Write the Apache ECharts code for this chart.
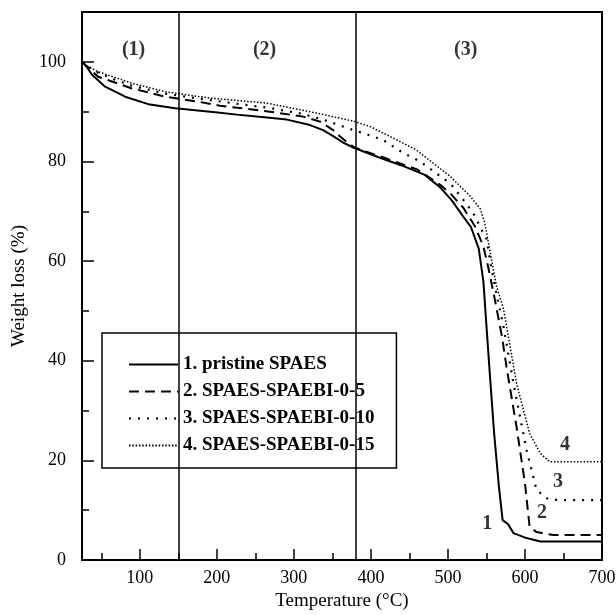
<!DOCTYPE html>
<html>
<head>
<meta charset="utf-8">
<script src="https://cdn.jsdelivr.net/npm/echarts@6/dist/echarts.min.js"></script>
<style>
html, body { margin: 0; background: #fff; }
#main { width: 616px; height: 615px; }
</style>
</head>
<body>
<div id="main"></div>
<script>
var seriesNames = ['1. pristine SPAES', '2. SPAES-SPAEBI-0-5', '3. SPAES-SPAEBI-0-10', '4. SPAES-SPAEBI-0-15'];

// (temperature in C, weight %)
var temp1 = [25, 30, 38, 55, 81, 111, 146, 198, 226, 265, 291, 321, 338, 351, 364, 377, 409, 440, 470, 490, 505, 520, 530, 540, 546, 550, 555, 560, 566, 571, 578, 585, 602, 620, 700];
var loss1 = [100, 99.2, 97.4, 95.0, 93.0, 91.5, 90.7, 89.9, 89.4, 88.8, 88.4, 87.3, 86.3, 85.1, 83.8, 82.8, 80.9, 79.2, 77.3, 74.8, 72.2, 68.9, 66.8, 62.5, 56, 47, 36, 25.4, 15, 8.0, 7.2, 5.4, 4.4, 3.7, 3.7];

var temp2 = [25, 29, 46, 89, 133, 176, 204, 269, 312, 334, 351, 360, 372, 380, 420, 460, 490, 503, 520, 535, 546, 552, 560, 570, 576, 589, 600, 606, 615, 622, 637, 700];
var loss2 = [100, 99.4, 97.0, 94.7, 93.0, 92.0, 91.2, 90.0, 89.0, 88.0, 86.3, 85.0, 83.5, 82.7, 80.6, 78.4, 75.3, 73.6, 70.7, 67.0, 63, 59, 53, 45, 38.8, 26.8, 15.4, 6.7, 5.6, 5.4, 5.0, 5.0];

var temp3 = [25, 30, 46, 68, 90, 133, 178, 230, 270, 310, 340, 377, 390, 416, 442, 464, 485, 503, 520, 533, 543, 550, 557, 565, 572, 585, 602, 615, 628, 645, 700];
var loss3 = [100, 99.3, 97.8, 96.4, 95.2, 93.6, 92.6, 91.5, 90.7, 89.6, 88.3, 86.3, 85.7, 84.3, 81.7, 80.0, 77.6, 75.6, 72.3, 69.6, 66.5, 64.5, 58, 52, 47, 35.5, 22.1, 14.1, 12.4, 12.0, 12.0];

var temp4 = [25, 30, 46, 90, 133, 178, 193, 265, 330, 377, 399, 416, 459, 503, 529, 542, 548, 555, 563, 572, 589, 606, 620, 632, 700];
var loss4 = [100, 99.3, 98.0, 95.7, 94.0, 93.0, 92.7, 91.7, 89.7, 88.1, 87.0, 85.7, 82.3, 77.0, 73.0, 70.5, 67.5, 61.6, 55.0, 50.5, 35.5, 25.4, 21.4, 19.7, 19.7];

var xLabels = [100, 200, 300, 400, 500, 600, 700];
var xMajorTicks = [100, 200, 300, 400, 500, 600];
var xMinorTicks = [50, 150, 250, 350, 450, 550, 650];
var yLabels = [0, 20, 40, 60, 80, 100];
var yMajorTicks = [20, 40, 60, 80, 100];
var yMinorTicks = [10, 30, 50, 70, 90];

var stageLines = [150, 380];
var stageText = ['(1)', '(2)', '(3)'];
var stageTemp = [92, 262, 523];
var stageLoss = [102.4, 102.4, 102.4];

var curveTags = ['1', '2', '3', '4'];
var tagTemp = [551, 622, 643, 652];
var tagLoss = [7.2, 9.4, 15.7, 23.1];

var serif = '"Liberation Serif", "DejaVu Serif", serif';

function zip(xs, ys) {
    return xs.map(function (x, i) { return [x, ys[i]]; });
}

function textPoints(xs, ys, texts) {
    return xs.map(function (x, i) {
        return { value: [x, ys[i]], label: { formatter: texts[i] } };
    });
}

var lineStyles = [
    { color: '#000', width: 2, type: 'solid' },
    { color: '#000', width: 2, type: [10, 6] },
    { color: '#000', width: 2.2, type: [2, 7] },
    { color: '#000', width: 1.5, type: [1.5, 1.8] }
];
var allData = [zip(temp1, loss1), zip(temp2, loss2), zip(temp3, loss3), zip(temp4, loss4)];

var series = allData.map(function (d, i) {
    var s = {
        name: seriesNames[i],
        type: 'line',
        data: d,
        symbol: 'none',
        smooth: false,
        itemStyle: { color: '#000' },
        lineStyle: lineStyles[i]
    };
    if (i === 0) {
        s.markLine = {
            silent: true,
            symbol: 'none',
            label: { show: false },
            lineStyle: { color: '#000', width: 1.5, type: 'solid' },
            data: stageLines.map(function (v) { return { xAxis: v }; })
        };
    }
    return s;
});

var labelStyle = { show: true, position: 'inside', color: '#000', fontFamily: serif, fontWeight: 'bold', fontSize: 20 };

series.push({
    name: 'stages',
    type: 'scatter',
    symbolSize: 0,
    silent: true,
    label: labelStyle,
    data: textPoints(stageTemp, stageLoss, stageText)
});
series.push({
    name: 'tags',
    type: 'scatter',
    symbolSize: 0,
    silent: true,
    label: labelStyle,
    data: textPoints(tagTemp, tagLoss, curveTags)
});

var axisText = { color: '#000', fontFamily: serif, fontSize: 18 };

var option = {
    animation: false,
    backgroundColor: '#fff',
    grid: {
        left: 82, right: 14, top: 12, bottom: 55,
        show: true, borderColor: '#000', borderWidth: 2,
        outerBoundsMode: 'none'
    },
    legend: {
        data: seriesNames,
        orient: 'vertical',
        left: 102,
        top: 333,
        padding: [22, 22, 13, 26],
        itemGap: 8,
        itemWidth: 49,
        itemHeight: 14,
        borderColor: '#000',
        borderWidth: 1.5,
        backgroundColor: '#fff',
        itemStyle: { opacity: 0 },
        textStyle: { color: '#000', fontFamily: serif, fontWeight: 'bold', fontSize: 19 }
    },
    xAxis: [{
        type: 'value',
        min: 25, max: 700,
        name: 'Temperature (\u00b0C)',
        nameLocation: 'middle',
        nameGap: 30,
        nameTextStyle: { color: '#000', fontFamily: serif, fontSize: 19 },
        axisLine: { lineStyle: { color: '#000', width: 2 } },
        axisTick: { inside: true, length: 11, customValues: xMajorTicks, lineStyle: { color: '#000', width: 1.5 } },
        axisLabel: Object.assign({ customValues: xLabels, margin: 9 }, axisText),
        splitLine: { show: false }
    }, {
        type: 'value',
        min: 25, max: 700,
        position: 'bottom',
        axisLine: { show: false },
        axisTick: { inside: true, length: 7, customValues: xMinorTicks, lineStyle: { color: '#000', width: 1.5 } },
        axisLabel: { show: false },
        splitLine: { show: false }
    }],
    yAxis: [{
        type: 'value',
        min: 0, max: 110,
        name: 'Weight loss (%)',
        nameLocation: 'middle',
        nameGap: 48,
        nameTextStyle: { color: '#000', fontFamily: serif, fontSize: 19 },
        axisLine: { lineStyle: { color: '#000', width: 2 } },
        axisTick: { inside: true, length: 12, customValues: yMajorTicks, lineStyle: { color: '#000', width: 1.5 } },
        axisLabel: Object.assign({ customValues: yLabels, margin: 16 }, axisText),
        splitLine: { show: false }
    }, {
        type: 'value',
        min: 0, max: 110,
        position: 'left',
        axisLine: { show: false },
        axisTick: { inside: true, length: 7, customValues: yMinorTicks, lineStyle: { color: '#000', width: 1.5 } },
        axisLabel: { show: false },
        splitLine: { show: false }
    }],
    series: series
};

var myChart = echarts.init(document.getElementById('main'));
myChart.setOption(option);
</script>
</body>
</html>
